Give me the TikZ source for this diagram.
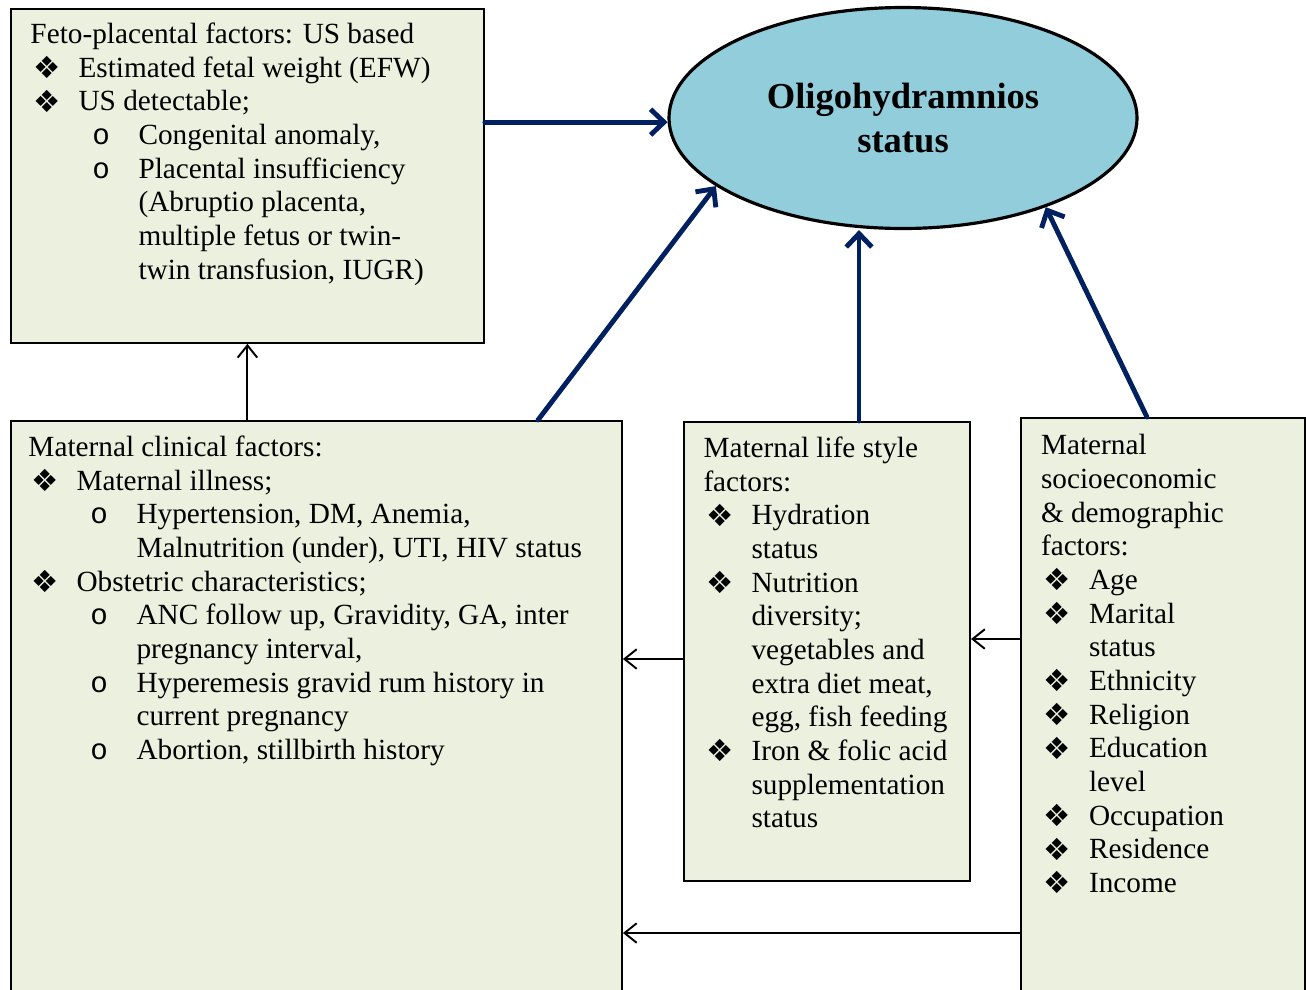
\documentclass[tikz,border=0pt]{standalone}
\usepackage{fontspec}
\setmainfont{Liberation Serif}
\newfontfamily\symfont{DejaVu Sans}
\newfontfamily\circfont{Liberation Mono}
\usetikzlibrary{arrows.meta,positioning,calc,shapes.geometric}
\definecolor{BoxGreen}{RGB}{235,241,222}
\definecolor{StatusBlue}{RGB}{146,205,220}
\definecolor{ArrowNavy}{RGB}{0,32,96}
% list markers as the picture sets them
\newcommand{\diam}{\raisebox{-0.6pt}{\symfont\fontsize{12.5}{12.5}\selectfont ❖}}
\newcommand{\lvone}[1]{\hspace*{1.2pt}\makebox[18.5pt][l]{\diam}#1}
\newcommand{\lvonecont}[1]{\hspace*{19.7pt}#1}
\newcommand{\lvtwo}[1]{\hspace*{25.4pt}\makebox[18.9pt][l]{\circfont o}#1}
\newcommand{\lvtwocont}[1]{\hspace*{44.3pt}#1}
\tikzset{
  factorbox/.style={draw=black,line width=0.8pt,fill=BoxGreen,rectangle,
    anchor=north west,inner sep=0pt},
  factortext/.style={anchor=north west,inner sep=0pt,align=left,
    font=\fontsize{12}{13.8}\selectfont},
  statusnode/.style={draw=black,line width=1.3pt,fill=StatusBlue,ellipse,
    minimum width=191.9pt,minimum height=90.6pt,inner sep=0pt,align=center,
    font=\bfseries\fontsize{15}{18.3}\selectfont},
  mainarrow/.style={-{Straight Barb[length=5.5pt,width=10.5pt]},
    line width=2pt,draw=ArrowNavy,line cap=round},
  linkarrow/.style={-{Straight Barb[length=5pt,width=8pt]},
    line width=0.8pt,draw=black},
}
\begin{document}
\begin{tikzpicture}[x=0.41pt,y=-0.41pt]
  \useasboundingbox (0,0) rectangle (1306,989);
  \fill[white] (0,0) rectangle (1306,989);
  \clip (0,0) rectangle (1306,989);
  % boxes
  \node[factorbox,minimum width=193.9pt,minimum height=136.9pt] (feto) at (10,8) {};
  \node[factorbox,minimum width=250.5pt,minimum height=240pt] (clinical) at (10,420) {};
  \node[factorbox,minimum width=117.3pt,minimum height=188.2pt] (life) at (683,421) {};
  \node[factorbox,minimum width=116.4pt,minimum height=240pt] (socio) at (1020,417) {};
  \node[statusnode] (status) at (903,118) {Oligohydramnios\\status};
  % box texts
  \node[factortext] (fetotext) at (30,19.4) {\strut Feto-placental factors: US based\\
    \lvone{Estimated fetal weight (EFW)}\\
    \lvone{US detectable;}\\
    \lvtwo{Congenital anomaly,}\\
    \lvtwo{Placental insufficiency}\\
    \lvtwocont{(Abruptio placenta,}\\
    \lvtwocont{multiple fetus or twin-}\\
    \lvtwocont{twin transfusion, IUGR)}};
  \node[factortext] (clinicaltext) at (28,432.4) {\strut Maternal clinical factors:\\
    \lvone{Maternal illness;}\\
    \lvtwo{Hypertension, DM, Anemia,}\\
    \lvtwocont{Malnutrition (under), UTI, HIV status}\\
    \lvone{Obstetric characteristics;}\\
    \lvtwo{ANC follow up, Gravidity, GA, inter}\\
    \lvtwocont{pregnancy interval,}\\
    \lvtwo{Hyperemesis gravid rum history in}\\
    \lvtwocont{current pregnancy}\\
    \lvtwo{Abortion, stillbirth history}};
  \node[factortext] (lifetext) at (703,433.4) {\strut Maternal life style\\
    factors:\\
    \lvone{Hydration}\\
    \lvonecont{status}\\
    \lvone{Nutrition}\\
    \lvonecont{diversity;}\\
    \lvonecont{vegetables and}\\
    \lvonecont{extra diet meat,}\\
    \lvonecont{egg, fish feeding}\\
    \lvone{Iron \& folic acid}\\
    \lvonecont{supplementation}\\
    \lvonecont{status}};
  \node[factortext] (sociotext) at (1040.5,430.7) {\strut Maternal\\
    socioeconomic\\
    \& demographic\\
    factors:\\
    \lvone{Age}\\
    \lvone{Marital}\\
    \lvonecont{status}\\
    \lvone{Ethnicity}\\
    \lvone{Religion}\\
    \lvone{Education}\\
    \lvonecont{level}\\
    \lvone{Occupation}\\
    \lvone{Residence}\\
    \lvone{Income}};
  % arrows into the status
  \draw[mainarrow] (feto.east |- status.181.5) -- (status.181.5);
  \draw[mainarrow] ($(clinical.north)+(221.5,0)$) -- (status.200);
  \draw[mainarrow] ($(life.north)+(32,0)$) coordinate (lifetop) -- (lifetop |- status.south);
  \draw[mainarrow] ($(socio.north)+(-16,0)$) -- (status.328);
  % links between the factor boxes
  \draw[linkarrow] (feto.south |- clinical.north) -- (feto.south);
  \draw[linkarrow] ($(life.west)+(0,7.5)$) coordinate (lifeleft) -- (lifeleft -| clinical.east);
  \draw[linkarrow] ($(socio.north west)+(0,222)$) coordinate (socioA) -- (socioA -| life.east);
  \draw[linkarrow] ($(socio.north west)+(0,516)$) coordinate (socioB) -- (socioB -| clinical.east);
\end{tikzpicture}
\end{document}
